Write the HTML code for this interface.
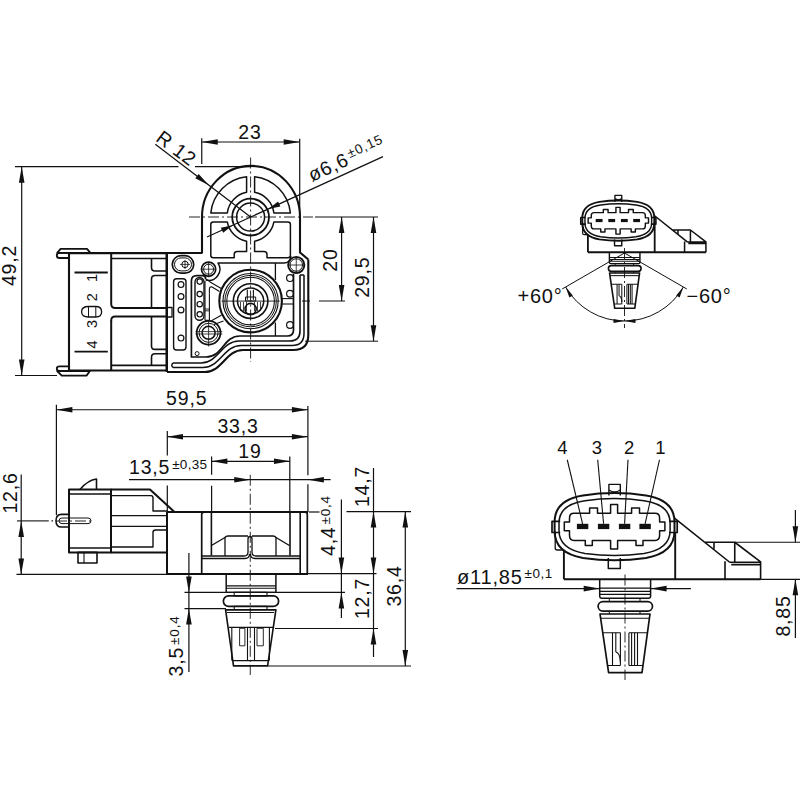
<!DOCTYPE html>
<html><head><meta charset="utf-8"><style>
html,body{margin:0;padding:0;background:#fff;}
svg{display:block;}
text{font-family:"Liberation Sans",sans-serif;fill:#111;stroke:none;letter-spacing:0.8px;}
</style></head><body>
<svg width="800" height="800" viewBox="0 0 800 800" stroke="#111" fill="none" stroke-linecap="butt" stroke-linejoin="round">
<rect x="0" y="0" width="800" height="800" fill="#fff" stroke="none"/>
<line x1="15" y1="166.7" x2="178.5" y2="166.7" stroke-width="1.2"/>
<line x1="195" y1="166.7" x2="251" y2="166.7" stroke-width="1.2"/>
<line x1="15" y1="375.5" x2="57" y2="375.5" stroke-width="1.2"/>
<line x1="21.7" y1="166.7" x2="21.7" y2="375.5" stroke-width="1.2"/>
<path d="M21.7,166.7 L24.5,182.7 L18.9,182.7 Z" fill="#111" stroke="none"/>
<path d="M21.7,375.5 L18.9,359.5 L24.5,359.5 Z" fill="#111" stroke="none"/>
<text x="0" y="0" transform="translate(16.4,265.5) rotate(-90)" font-size="19.5" text-anchor="middle">49,2</text>
<line x1="201.75" y1="138.3" x2="201.75" y2="164" stroke-width="1.2"/>
<line x1="299.7" y1="138.7" x2="299.7" y2="217" stroke-width="1.2"/>
<line x1="201.75" y1="142" x2="299.7" y2="142" stroke-width="1.2"/>
<path d="M201.75,142 L217.75,139.2 L217.75,144.8 Z" fill="#111" stroke="none"/>
<path d="M299.7,142 L283.7,144.8 L283.7,139.2 Z" fill="#111" stroke="none"/>
<text x="0" y="0" transform="translate(250,139) rotate(0)" font-size="19.5" text-anchor="middle">23</text>
<line x1="155.3" y1="144.3" x2="250.6" y2="217.1" stroke-width="1.2"/>
<path d="M208.9,185.2 L195.26,178.35 L198.65,173.89 Z" fill="#111" stroke="none"/>
<text x="0" y="0" transform="translate(172.4,153.6) rotate(37)" font-size="19.5" text-anchor="middle">R 12</text>
<line x1="383" y1="156.6" x2="207" y2="237" stroke-width="1.2"/>
<path d="M268.32,208.99 L278.06,201.45 L280.39,206.55 Z" fill="#111" stroke="none"/>
<path d="M232.88,225.21 L223.14,232.75 L220.81,227.65 Z" fill="#111" stroke="none"/>
<text transform="translate(312,182) rotate(-24.6)" font-size="19.5">ø6,6<tspan font-size="13.5" dx="2" dy="-6">±0,15</tspan></text>
<path d="M202,253.5 V217.1 A48.7,50.9 0 0 1 300,217.1 V252.5 L308.3,259.5" stroke-width="2.1" fill="none"/>
<circle cx="250.6" cy="217.1" r="18.4" stroke-width="1.8" fill="none"/>
<circle cx="250.6" cy="217.1" r="14" stroke-width="1.5" fill="none"/>
<path d="M210.8,213 A40.5,40.5 0 0 1 246.6,176.8 V192.3 A24,24 0 0 0 227.3,213 Z" stroke-width="1.5" fill="none"/>
<path d="M290.4,213 A40.5,40.5 0 0 0 254.6,176.8 V192.3 A24,24 0 0 1 273.9,213 Z" stroke-width="1.5" fill="none"/>
<path d="M213.3,221.9 H227.3 A24,24 0 0 0 246.6,241.2 V251.5 H237.2 Q234.2,251.5 234.2,254.5 V257.7 H213.3 Q210.8,257.7 210.8,255.2 V224.4 Q210.8,221.9 213.3,221.9 Z" stroke-width="1.5" fill="none"/>
<path d="M287.9,221.9 H273.9 A24,24 0 0 1 254.6,241.2 V251.5 H264 Q267,251.5 267,254.5 V257.7 H287.9 Q290.4,257.7 290.4,255.2 V224.4 Q290.4,221.9 287.9,221.9 Z" stroke-width="1.5" fill="none"/>
<line x1="189" y1="217" x2="313" y2="217" stroke-width="0.9" stroke-dasharray="11 3 2 3"/>
<line x1="250.6" y1="157.5" x2="250.6" y2="362" stroke-width="0.9" stroke-dasharray="11 3 2 3"/>
<path d="M167,253 H202" stroke-width="2.0" fill="none"/>
<line x1="167" y1="253" x2="167" y2="372" stroke-width="2.0"/>
<path d="M308.3,259.5 V335 Q308.3,350 293.3,350 H243 C226,350 222,372 205,372 H167" stroke-width="2.1" fill="none"/>
<path d="M304,275 V333.5 Q304,345.5 292,345.5 H241 C224,345.5 220,367.5 203,367.5 H173" stroke-width="1.5" fill="none"/>
<path d="M300,275 V331 Q300,341 290,341 H239 C222,341 218,363 201,363 H173" stroke-width="1.6" fill="none"/>
<path d="M304,275 H300 M173,367.5 Q170.5,365.25 173,363" stroke-width="1.4" fill="none"/>
<path d="M293.5,274 V330 Q293.5,336 287.5,336 H240 C223,336 223,357 206,357 H191.4 V281 Q191.4,275.7 196.7,275.7 H203 Q205.7,275.7 205.7,279.3" stroke-width="1.7" fill="none"/>
<path d="M205.7,280.1 A11.3,11.3 0 0 0 218,263 H284 Q290,263 291,256" stroke-width="1.4" fill="none"/>
<line x1="275.4" y1="263" x2="275.4" y2="280" stroke-width="1.3"/>
<line x1="275.4" y1="322.5" x2="275.4" y2="336" stroke-width="1.3"/>
<path d="M181,255.7 H185 A8.7,8.7 0 0 1 185,273.1 H181 A8.7,8.7 0 0 1 181,255.7 Z" stroke-width="1.7" fill="none"/>
<path d="M181,257.9 H185 A6.5,6.5 0 0 1 185,270.9 H181 A6.5,6.5 0 0 1 181,257.9 Z" stroke-width="1.0" fill="none"/>
<circle cx="185" cy="264.4" r="3.2" stroke-width="1.0" fill="none"/>
<line x1="180" y1="264.4" x2="190" y2="264.4" stroke-width="0.8"/>
<line x1="185" y1="260" x2="185" y2="269" stroke-width="0.8"/>
<circle cx="208.6" cy="269.2" r="7.1" stroke-width="1.7" fill="none"/>
<circle cx="208.6" cy="269.2" r="5" stroke-width="1.0" fill="none"/>
<line x1="201" y1="269.2" x2="216" y2="269.2" stroke-width="0.8"/>
<line x1="208.6" y1="262" x2="208.6" y2="276.5" stroke-width="0.8"/>
<circle cx="296.25" cy="265" r="8.1" stroke-width="1.9" fill="none"/>
<circle cx="296.25" cy="265" r="6.25" stroke-width="1.0" fill="none"/>
<line x1="288" y1="265" x2="304.5" y2="265" stroke-width="0.8"/>
<line x1="296.25" y1="257" x2="296.25" y2="273" stroke-width="0.8"/>
<circle cx="208.6" cy="332.8" r="11.9" stroke-width="1.8" fill="none"/>
<circle cx="208.6" cy="332.8" r="9.5" stroke-width="1.0" fill="none"/>
<circle cx="208.6" cy="332.8" r="6.5" stroke-width="1.5" fill="none"/>
<line x1="195.6" y1="331.6" x2="222.3" y2="331.6" stroke-width="0.8"/>
<line x1="195.6" y1="334" x2="222.3" y2="334" stroke-width="0.8"/>
<line x1="208.6" y1="320.9" x2="208.6" y2="346.5" stroke-width="0.8"/>
<circle cx="250.6" cy="301.1" r="31.3" stroke-width="2.1" fill="none"/>
<circle cx="250.6" cy="301.1" r="27.6" stroke-width="1.1" fill="none"/>
<circle cx="250.6" cy="301.1" r="25.7" stroke-width="1.0" fill="none"/>
<circle cx="250.6" cy="301.1" r="23.8" stroke-width="1.1" fill="none"/>
<circle cx="250.6" cy="301.1" r="17.3" stroke-width="1.6" fill="none"/>
<circle cx="250.6" cy="301.1" r="13.1" stroke-width="1.5" fill="none"/>
<line x1="221.6" y1="301.1" x2="279.7" y2="301.1" stroke-width="0.9"/>
<circle cx="250.6" cy="309" r="5.6" stroke-width="1.6" fill="none"/>
<line x1="240.5" y1="302" x2="240.5" y2="311" stroke-width="0.8"/>
<line x1="243.5" y1="302" x2="243.5" y2="311" stroke-width="0.8"/>
<line x1="246.5" y1="302" x2="246.5" y2="311" stroke-width="0.8"/>
<line x1="254.5" y1="302" x2="254.5" y2="311" stroke-width="0.8"/>
<line x1="257.5" y1="302" x2="257.5" y2="311" stroke-width="0.8"/>
<line x1="260.5" y1="302" x2="260.5" y2="311" stroke-width="0.8"/>
<line x1="247.3" y1="289.8" x2="247.3" y2="299.7" stroke-width="1.1"/>
<line x1="253.4" y1="289.8" x2="253.4" y2="299.7" stroke-width="1.1"/>
<rect x="245.5" y="297" width="10.2" height="4" rx="0" stroke-width="1.0" fill="none"/>
<rect x="173.6" y="278.7" width="12.4" height="71.3" rx="3" stroke-width="1.4" fill="none"/>
<circle cx="181" cy="284.6" r="2.9" stroke-width="1.2" fill="none"/>
<circle cx="181" cy="296.5" r="2.9" stroke-width="1.2" fill="none"/>
<circle cx="181" cy="310" r="2.9" stroke-width="1.2" fill="none"/>
<circle cx="181" cy="338.1" r="2.9" stroke-width="1.2" fill="none"/>
<rect x="195" y="277.5" width="9" height="42.8" rx="4.5" stroke-width="1.4" fill="none"/>
<circle cx="199.7" cy="281.6" r="2.7" stroke-width="1.2" fill="none"/>
<circle cx="199.7" cy="294.1" r="2.7" stroke-width="1.2" fill="none"/>
<circle cx="199.7" cy="304.2" r="2.7" stroke-width="1.2" fill="none"/>
<circle cx="199.7" cy="314.3" r="2.7" stroke-width="1.2" fill="none"/>
<circle cx="290" cy="278.1" r="3.4" stroke-width="1.2" fill="none"/>
<circle cx="290" cy="293.75" r="3.4" stroke-width="1.2" fill="none"/>
<circle cx="290" cy="325" r="3.4" stroke-width="1.2" fill="none"/>
<circle cx="197.1" cy="353.6" r="2" stroke-width="1.0" fill="none"/>
<path d="M205.7,279.3 Q208,279.5 210,282 L221.3,288.5" stroke-width="1.1" fill="none"/>
<path d="M209.4,293.75 V289 Q209.4,286.5 212,287 L219.5,291.5" stroke-width="1.1" fill="none"/>
<line x1="205" y1="281" x2="205" y2="320.3" stroke-width="1.1"/>
<line x1="209.4" y1="293.75" x2="209.4" y2="320.3" stroke-width="1.1"/>
<line x1="205" y1="320.3" x2="209.4" y2="320.3" stroke-width="1.1"/>
<line x1="205" y1="309" x2="209.4" y2="309" stroke-width="0.9"/>
<line x1="205" y1="310.8" x2="209.4" y2="310.8" stroke-width="0.9"/>
<line x1="211" y1="320.9" x2="221.7" y2="315" stroke-width="1.1"/>
<line x1="214" y1="324.5" x2="223.5" y2="320.9" stroke-width="1.1"/>
<line x1="281.9" y1="298.6" x2="293.5" y2="298.6" stroke-width="1.1"/>
<line x1="281.9" y1="304" x2="293.5" y2="304" stroke-width="1.1"/>
<line x1="315" y1="217" x2="378" y2="217" stroke-width="1.1"/>
<line x1="302" y1="301" x2="310" y2="301" stroke-width="1.0"/>
<line x1="319" y1="301" x2="345" y2="301" stroke-width="1.0"/>
<line x1="305" y1="341.2" x2="378" y2="341.2" stroke-width="1.0"/>
<line x1="341.6" y1="217" x2="341.6" y2="301" stroke-width="1.2"/>
<path d="M341.6,217 L344.4,233 L338.8,233 Z" fill="#111" stroke="none"/>
<path d="M341.6,301 L338.8,285 L344.4,285 Z" fill="#111" stroke="none"/>
<text x="0" y="0" transform="translate(336.5,260) rotate(-90)" font-size="19.5" text-anchor="middle">20</text>
<line x1="373.5" y1="217" x2="373.5" y2="341" stroke-width="1.2"/>
<path d="M373.5,217 L376.3,233 L370.7,233 Z" fill="#111" stroke="none"/>
<path d="M373.5,341.2 L370.7,325.2 L376.3,325.2 Z" fill="#111" stroke="none"/>
<text x="0" y="0" transform="translate(369,277.2) rotate(-90)" font-size="19.5" text-anchor="middle">29,5</text>
<path d="M57.2,252.8 L60.6,248.8 H87 L90.4,252.8 Z" stroke-width="1.8" fill="none"/>
<path d="M69,252.8 H59.6 Q56.8,252.8 56.8,255.4 Q56.8,258 59.6,258 H69" stroke-width="1.8" fill="none"/>
<path d="M57.2,371 L61.7,375.6 H86.5 L89.9,371 Z" stroke-width="1.8" fill="none"/>
<path d="M69,371 H59.6 Q56.8,371 56.8,368.6 Q56.8,366.3 59.6,366.3 H69" stroke-width="1.8" fill="none"/>
<rect x="69" y="253.1" width="97.8" height="117.4" rx="0" stroke-width="2.1" fill="none"/>
<line x1="166.8" y1="253.1" x2="166.8" y2="372" stroke-width="2.3"/>
<line x1="111.2" y1="253.1" x2="111.2" y2="304" stroke-width="2.0"/>
<line x1="111.2" y1="320" x2="111.2" y2="370.5" stroke-width="2.0"/>
<path d="M111.2,304 Q111.2,308 115.2,308 H166.8" stroke-width="1.9" fill="none"/>
<path d="M111.2,320.5 Q111.2,316.5 115.2,316.5 H166.8" stroke-width="1.9" fill="none"/>
<line x1="111.2" y1="258.5" x2="166.8" y2="258.5" stroke-width="1.7"/>
<line x1="111.2" y1="365.3" x2="166.8" y2="365.3" stroke-width="1.7"/>
<path d="M151.5,258.5 V267.5 Q151.5,271 155,271 H166.8" stroke-width="1.6" fill="none"/>
<path d="M166.8,275.5 H155 Q151.5,275.5 151.5,279 V308" stroke-width="1.6" fill="none"/>
<path d="M151.5,316.5 V346 Q151.5,349.4 155,349.4 H166.8" stroke-width="1.6" fill="none"/>
<path d="M166.8,353.8 H155 Q151.5,353.8 151.5,357.3 V365.3" stroke-width="1.6" fill="none"/>
<rect x="166.8" y="307.5" width="5.2" height="9.5" rx="0" stroke-width="1.3" fill="none"/>
<line x1="74.5" y1="272.5" x2="107.8" y2="272.5" stroke-width="1.8"/>
<line x1="74.5" y1="351.7" x2="107.8" y2="351.7" stroke-width="1.8"/>
<text x="0" y="0" transform="translate(96.6,277.6) rotate(-90)" font-size="14.5" text-anchor="middle">1</text>
<text x="0" y="0" transform="translate(96.6,296.9) rotate(-90)" font-size="14.5" text-anchor="middle">2</text>
<text x="0" y="0" transform="translate(96.6,323.6) rotate(-90)" font-size="14.5" text-anchor="middle">3</text>
<text x="0" y="0" transform="translate(96.6,344.1) rotate(-90)" font-size="14.5" text-anchor="middle">4</text>
<path d="M88.5,306.5 H95.8 Q101.6,306.5 101.6,311.7 Q101.6,317 95.8,317 H88.5 Q81.6,317 81.6,311.7 Q81.6,306.5 88.5,306.5 Z" stroke-width="1.3" fill="none"/>
<line x1="88.5" y1="306.5" x2="88.5" y2="317" stroke-width="1.0"/>
<line x1="95.8" y1="306.5" x2="95.8" y2="317" stroke-width="1.0"/>
<line x1="56.4" y1="404.8" x2="56.4" y2="515" stroke-width="1.2"/>
<line x1="56.4" y1="409.75" x2="307.9" y2="409.75" stroke-width="1.2"/>
<path d="M56.4,409.75 L72.4,406.95 L72.4,412.55 Z" fill="#111" stroke="none"/>
<path d="M307.9,409.75 L291.9,412.55 L291.9,406.95 Z" fill="#111" stroke="none"/>
<text x="0" y="0" transform="translate(186.7,405.3) rotate(0)" font-size="19.5" text-anchor="middle">59,5</text>
<line x1="307.9" y1="406" x2="307.9" y2="475.25" stroke-width="1.2"/>
<line x1="307.9" y1="484.25" x2="307.9" y2="512" stroke-width="1.2"/>
<line x1="167.3" y1="431" x2="167.3" y2="455.6" stroke-width="1.2"/>
<line x1="167.3" y1="485.6" x2="167.3" y2="512" stroke-width="1.2"/>
<line x1="167" y1="436.7" x2="307.9" y2="436.7" stroke-width="1.2"/>
<path d="M167,436.7 L183,433.9 L183,439.5 Z" fill="#111" stroke="none"/>
<path d="M307.9,436.7 L291.9,439.5 L291.9,433.9 Z" fill="#111" stroke="none"/>
<text x="0" y="0" transform="translate(238,432.6) rotate(0)" font-size="19.5" text-anchor="middle">33,3</text>
<line x1="211.6" y1="456.5" x2="211.6" y2="474.8" stroke-width="1.2"/>
<line x1="211.6" y1="485.75" x2="211.6" y2="512" stroke-width="1.2"/>
<line x1="289.8" y1="456.5" x2="289.8" y2="512" stroke-width="1.2"/>
<line x1="211.4" y1="461.3" x2="290" y2="461.3" stroke-width="1.2"/>
<path d="M211.4,461.3 L227.4,458.5 L227.4,464.1 Z" fill="#111" stroke="none"/>
<path d="M290,461.3 L274,464.1 L274,458.5 Z" fill="#111" stroke="none"/>
<text x="0" y="0" transform="translate(250,458) rotate(0)" font-size="19.5" text-anchor="middle">19</text>
<text x="129" y="473.5" font-size="19.5">13,5<tspan font-size="13.5" dx="2" dy="-5" letter-spacing="0.3">±0,35</tspan></text>
<line x1="129" y1="479.7" x2="330.6" y2="479.7" stroke-width="1.2"/>
<path d="M250.25,479.7 L234.25,482.5 L234.25,476.9 Z" fill="#111" stroke="none"/>
<path d="M307.9,479.7 L323.9,476.9 L323.9,482.5 Z" fill="#111" stroke="none"/>
<line x1="250.25" y1="474.8" x2="250.25" y2="675" stroke-width="0.9" stroke-dasharray="11 3 2 3"/>
<rect x="69" y="489.4" width="42" height="63" rx="0" stroke-width="2.0" fill="none"/>
<line x1="69" y1="494" x2="111" y2="494" stroke-width="1.3"/>
<line x1="69" y1="548" x2="111" y2="548" stroke-width="1.3"/>
<path d="M80,489.4 Q88,480 96.5,479 V489.4" stroke-width="1.6" fill="none"/>
<path d="M69,514.4 H61.5 Q56,514.4 56,520.7 Q56,527 61.5,527 H69" stroke-width="1.6" fill="none"/>
<path d="M62,518 H88 Q91,518 91,520.8 Q91,523.6 88,523.6 H62 Q59,523.6 59,520.8 Q59,518 62,518 Z" stroke-width="1.0" fill="none"/>
<line x1="56" y1="521" x2="92" y2="521" stroke-width="0.9" stroke-dasharray="11 3 2 3"/>
<path d="M111,489.4 H150 L174.5,512" stroke-width="2.0" fill="none"/>
<line x1="111" y1="552.4" x2="167" y2="552.4" stroke-width="2.0"/>
<path d="M111,495.6 H151 Q153,495.6 153,498 V511 H167" stroke-width="1.4" fill="none"/>
<path d="M167,530 H155.5 Q153,530 153,532.5 V547 H111" stroke-width="1.4" fill="none"/>
<line x1="111" y1="515.6" x2="167" y2="515.6" stroke-width="1.4"/>
<line x1="111" y1="526.4" x2="167" y2="526.4" stroke-width="1.4"/>
<rect x="78" y="552.4" width="19" height="10.6" rx="0" stroke-width="1.6" fill="none"/>
<line x1="84" y1="552.4" x2="84" y2="563" stroke-width="1.1"/>
<line x1="17" y1="520.9" x2="48.75" y2="520.9" stroke-width="1.1"/>
<line x1="51.5" y1="520.9" x2="53" y2="520.9" stroke-width="1.1"/>
<line x1="16.5" y1="574.4" x2="167" y2="574.4" stroke-width="1.2"/>
<line x1="21.2" y1="474.6" x2="21.2" y2="574.4" stroke-width="1.2"/>
<path d="M21.2,520.9 L24,536.9 L18.4,536.9 Z" fill="#111" stroke="none"/>
<path d="M21.2,574.4 L18.4,558.4 L24,558.4 Z" fill="#111" stroke="none"/>
<text x="0" y="0" transform="translate(16.8,493) rotate(-90)" font-size="19.5" text-anchor="middle">12,6</text>
<line x1="167" y1="512" x2="308" y2="512" stroke-width="2.0"/>
<line x1="167" y1="512" x2="167" y2="574" stroke-width="2.0"/>
<line x1="167" y1="574" x2="308" y2="574" stroke-width="2.0"/>
<path d="M201.7,574 V514.5 Q201.7,512.5 203.7,512.5" stroke-width="1.7" fill="none"/>
<path d="M307.3,574 V514.5 Q307.3,512.5 305.3,512.5" stroke-width="1.7" fill="none"/>
<line x1="300.2" y1="512" x2="300.2" y2="574" stroke-width="1.6"/>
<line x1="211.4" y1="512" x2="211.4" y2="555.5" stroke-width="1.6"/>
<line x1="290" y1="512" x2="290" y2="555.5" stroke-width="1.6"/>
<path d="M201.7,556 H244 Q248,556 248,552 V539 Q248,536.5 250,536.5 Q252,536.5 252,539 V552 Q252,556 256,556 H300.2" stroke-width="1.3" fill="none"/>
<path d="M201.7,558.5 H245 Q249.5,558.5 249.5,554 M250.5,554 Q250.5,558.5 255,558.5 H300.2" stroke-width="1.3" fill="none"/>
<path d="M211.4,545.5 L225,537.5 Q226,536 228,536 H248 M252,536 H273 Q275,536 276,537.5 L289.4,545.5" stroke-width="1.4" fill="none"/>
<line x1="225" y1="537" x2="225" y2="556" stroke-width="1.3"/>
<line x1="276" y1="537" x2="276" y2="556" stroke-width="1.3"/>
<path d="M226.2,574 V592.4 M275.9,574 V592.4" stroke-width="1.5" fill="none"/>
<line x1="226.2" y1="585.9" x2="275.9" y2="585.9" stroke-width="1.1"/>
<line x1="226.2" y1="588.3" x2="275.9" y2="588.3" stroke-width="1.1"/>
<line x1="226.2" y1="592.4" x2="275.9" y2="592.4" stroke-width="1.3"/>
<rect x="234.2" y="592.2" width="32.8" height="3.8" rx="0" stroke-width="1.1" fill="none"/>
<rect x="223.4" y="595.9" width="55.2" height="10.5" rx="5.2" stroke-width="1.7" fill="none"/>
<rect x="234.2" y="606.4" width="32.8" height="3.1" rx="0" stroke-width="1.1" fill="none"/>
<path d="M225.6,609.9 H275.9 L267.6,665.9 H233.5 Z" stroke-width="1.6" fill="none"/>
<line x1="227" y1="612.5" x2="274" y2="612.5" stroke-width="1.1"/>
<line x1="229" y1="627.4" x2="273" y2="627.4" stroke-width="1.1"/>
<line x1="233" y1="660.6" x2="268" y2="660.6" stroke-width="1.1"/>
<path d="M231.8,627.4 V660.6 M247.5,627.4 V660.6 M254.5,627.4 V660.6 M269.4,627.4 V660.6" stroke-width="1.1" fill="none"/>
<rect x="239.6" y="628.3" width="5.3" height="17.5" rx="0" stroke-width="0.9" fill="none"/>
<rect x="257" y="628.3" width="6.3" height="17.5" rx="0" stroke-width="0.9" fill="none"/>
<line x1="308.8" y1="512" x2="319.5" y2="512" stroke-width="1.2"/>
<line x1="346.5" y1="511.6" x2="411" y2="511.6" stroke-width="1.2"/>
<line x1="308" y1="573.6" x2="376.5" y2="573.6" stroke-width="1.2"/>
<line x1="184.5" y1="592.4" x2="345" y2="592.4" stroke-width="1.2"/>
<line x1="184.5" y1="608.6" x2="226" y2="608.6" stroke-width="1.2"/>
<line x1="275" y1="628.5" x2="378" y2="628.5" stroke-width="1.2"/>
<line x1="267.6" y1="666" x2="411" y2="666" stroke-width="1.2"/>
<line x1="341.4" y1="499.5" x2="341.4" y2="618" stroke-width="1.2"/>
<path d="M341.4,573.6 L338.6,557.6 L344.2,557.6 Z" fill="#111" stroke="none"/>
<path d="M341.4,592.4 L344.2,608.4 L338.6,608.4 Z" fill="#111" stroke="none"/>
<text transform="translate(335.3,556) rotate(-90)" font-size="19.5">4,4<tspan font-size="13.5" dx="2" dy="-5">±0,4</tspan></text>
<line x1="373.5" y1="468" x2="373.5" y2="657" stroke-width="1.2"/>
<path d="M373.5,511.6 L376.3,527.6 L370.7,527.6 Z" fill="#111" stroke="none"/>
<path d="M373.5,573.6 L370.7,557.6 L376.3,557.6 Z" fill="#111" stroke="none"/>
<path d="M373.5,628.5 L376.3,644.5 L370.7,644.5 Z" fill="#111" stroke="none"/>
<text x="0" y="0" transform="translate(369,486.5) rotate(-90)" font-size="19.5" text-anchor="middle">14,7</text>
<text x="0" y="0" transform="translate(369,598.5) rotate(-90)" font-size="19.5" text-anchor="middle">12,7</text>
<line x1="405.3" y1="511.6" x2="405.3" y2="666" stroke-width="1.2"/>
<path d="M405.3,511.6 L408.1,527.6 L402.5,527.6 Z" fill="#111" stroke="none"/>
<path d="M405.3,666 L402.5,650 L408.1,650 Z" fill="#111" stroke="none"/>
<text x="0" y="0" transform="translate(400.5,586) rotate(-90)" font-size="19.5" text-anchor="middle">36,4</text>
<line x1="188.9" y1="553" x2="188.9" y2="672" stroke-width="1.2"/>
<path d="M188.9,592.4 L186.1,576.4 L191.7,576.4 Z" fill="#111" stroke="none"/>
<path d="M188.9,608.6 L191.7,624.6 L186.1,624.6 Z" fill="#111" stroke="none"/>
<text transform="translate(182.8,676.4) rotate(-90)" font-size="19.5">3,5<tspan font-size="13.5" dx="2" dy="-4">±0,4</tspan></text>
<g><path d="M583,495.4 Q614.5,490.5 646,495.4 Q674.5,500 674.5,522 V531 Q674.5,553 646,557.9 Q614.5,562.5 583,557.9 Q554.6,553 554.6,531 V522 Q554.6,500 583,495.4 Z" stroke-width="2" fill="none"/>
<path d="M585,500.7 Q614.5,496.5 644,500.7 Q670.1,504.5 670.1,523 V530.5 Q670.1,549 644,553.5 Q614.5,557.5 585,553.5 Q559,549 559,530.5 V523 Q559,504.5 585,500.7 Z" stroke-width="1.5" fill="none"/>
<path d="M574,513.3 H589.6 V508 H597.5 V513.3 H610.6 V504.5 H617.6 V513.3 H631.6 V508 H639.5 V513.3 H655 Q659.6,513.3 659.6,518 V522 H664.9 V530.8 H659.6 V535.5 Q659.6,540.4 655,540.4 H643 V545.6 H636 V540.4 H617.6 V549.1 H610.6 V540.4 H592.3 V545.6 H585.3 V540.4 H574 Q569.5,540.4 569.5,535.5 V530.8 H564.3 V522 H569.5 V518 Q569.5,513.3 574,513.3 Z" stroke-width="1.5" fill="none"/>
<rect x="576.9" y="523.8" width="11.4" height="5.3" fill="#111" stroke="none"/>
<rect x="597.9" y="523.8" width="11.4" height="5.3" fill="#111" stroke="none"/>
<rect x="618.9" y="523.8" width="11.4" height="5.3" fill="#111" stroke="none"/>
<rect x="639.4" y="523.8" width="11.4" height="5.3" fill="#111" stroke="none"/>
<path d="M608.9,495.4 V484.4 H620.3 V495.4 M609,490 Q614.5,494 620.2,490" stroke-width="1.4" fill="none"/>
<path d="M608.3,557.9 V568.4 H620.3 V557.9" stroke-width="1.5" fill="none"/>
<path d="M560.2,521.3 H552 V532.5 H560.2 M669,521.3 H677.2 V532.5 H669" stroke-width="1.7" fill="none"/>
<path d="M555.2,531 V548 Q555.2,550 557.5,550 H563.9" stroke-width="1.3" fill="none"/>
<path d="M563.9,550 V579.3 M675.2,533 V579.3 M563.9,579.3 H760.6" stroke-width="1.9" fill="none"/>
<path d="M674.5,518.1 L730,562.5 M705,542.25 H734.75 L760.6,561.9 V579.4 M725,561.25 V579.4 M730,562.25 H760.6 M731.25,564.6 H760.6 M734.75,542.25 V562 M714,542.25 V548.75" stroke-width="1.6" fill="none"/>
<path d="M599.7,579.7 V596 Q599.7,598.3 602,598.3 H648.3 Q650.6,598.3 650.6,596 V579.7" stroke-width="1.5" fill="none"/>
<path d="M599.7,588.1 H650.6 M599.7,591.4 H650.6 M599.7,594.4 H650.6" stroke-width="1.1" fill="none"/>
<path d="M609.3,598.3 V601.6 M640,598.3 V601.6" stroke-width="1" fill="none"/>
<rect x="598.1" y="601.6" width="54.4" height="9.5" rx="4.75" stroke-width="1.7" fill="none"/>
<path d="M609.3,611.1 V614 M640,611.1 V614" stroke-width="1" fill="none"/>
<path d="M600,614 H650 L642,672.7 H608.6 Z" stroke-width="1.7" fill="none"/>
<path d="M601,618.3 H649" stroke-width="1.1" fill="none"/>
<path d="M602.6,632.7 H620.4 M629,632.7 H647.5 M607.6,665.5 H620.4 M629,665.5 H643" stroke-width="1.1" fill="none"/>
<path d="M612.5,632.7 V665.5 M615.8,632.7 V652 M620.4,632.7 V665.5 M628.9,632.7 V665.5 M631.6,632.7 V665.5 M634.6,632.7 V665.5 M637.5,632.7 V665.5" stroke-width="1.1" fill="none"/>
<path d="M615.8,652 Q620,653 620.4,662" stroke-width="1.1" fill="none"/></g>
<line x1="625" y1="574.5" x2="625" y2="680" stroke-width="0.9" stroke-dasharray="11 3 2 3"/>
<text x="0" y="0" transform="translate(562.9,453.8) rotate(0)" font-size="18.5" text-anchor="middle">4</text>
<line x1="567.25" y1="459.75" x2="582.6" y2="523.8" stroke-width="1.1"/>
<text x="0" y="0" transform="translate(597.4,453.8) rotate(0)" font-size="18.5" text-anchor="middle">3</text>
<line x1="597.7" y1="459.75" x2="603.6" y2="523.8" stroke-width="1.1"/>
<text x="0" y="0" transform="translate(629.5,453.8) rotate(0)" font-size="18.5" text-anchor="middle">2</text>
<line x1="628" y1="459.75" x2="624.6" y2="523.8" stroke-width="1.1"/>
<text x="0" y="0" transform="translate(660.8,453.8) rotate(0)" font-size="18.5" text-anchor="middle">1</text>
<line x1="659.5" y1="459.75" x2="645.1" y2="523.8" stroke-width="1.1"/>
<line x1="734.75" y1="542.25" x2="800" y2="542.25" stroke-width="1.2"/>
<line x1="760.6" y1="579.3" x2="800" y2="579.3" stroke-width="1.2"/>
<line x1="795.4" y1="510" x2="795.4" y2="542.25" stroke-width="1.2"/>
<path d="M795.4,542.25 L792.6,526.25 L798.2,526.25 Z" fill="#111" stroke="none"/>
<line x1="795.4" y1="579.3" x2="795.4" y2="638" stroke-width="1.2"/>
<path d="M795.4,579.3 L798.2,595.3 L792.6,595.3 Z" fill="#111" stroke="none"/>
<text x="0" y="0" transform="translate(790,616) rotate(-90)" font-size="19.5" text-anchor="middle">8,85</text>
<line x1="456.5" y1="588.6" x2="599.7" y2="588.6" stroke-width="1.2"/>
<path d="M599.7,588.6 L583.7,591.4 L583.7,585.8 Z" fill="#111" stroke="none"/>
<line x1="650.6" y1="588.6" x2="690.9" y2="588.6" stroke-width="1.2"/>
<path d="M650.6,588.6 L666.6,585.8 L666.6,591.4 Z" fill="#111" stroke="none"/>
<text x="457" y="584" font-size="20">ø11,85<tspan font-size="13.5" dx="1.8" dy="-6" letter-spacing="0.6">±0,1</tspan></text>
<g transform="translate(618.3,220.65) scale(0.6) translate(-614.55,-526.65)"><path d="M583,495.4 Q614.5,490.5 646,495.4 Q674.5,500 674.5,522 V531 Q674.5,553 646,557.9 Q614.5,562.5 583,557.9 Q554.6,553 554.6,531 V522 Q554.6,500 583,495.4 Z" stroke-width="3.17" fill="none"/>
<path d="M585,500.7 Q614.5,496.5 644,500.7 Q670.1,504.5 670.1,523 V530.5 Q670.1,549 644,553.5 Q614.5,557.5 585,553.5 Q559,549 559,530.5 V523 Q559,504.5 585,500.7 Z" stroke-width="2.38" fill="none"/>
<path d="M574,513.3 H589.6 V508 H597.5 V513.3 H610.6 V504.5 H617.6 V513.3 H631.6 V508 H639.5 V513.3 H655 Q659.6,513.3 659.6,518 V522 H664.9 V530.8 H659.6 V535.5 Q659.6,540.4 655,540.4 H643 V545.6 H636 V540.4 H617.6 V549.1 H610.6 V540.4 H592.3 V545.6 H585.3 V540.4 H574 Q569.5,540.4 569.5,535.5 V530.8 H564.3 V522 H569.5 V518 Q569.5,513.3 574,513.3 Z" stroke-width="2.38" fill="none"/>
<rect x="576.9" y="523.8" width="11.4" height="5.3" fill="#111" stroke="none"/>
<rect x="597.9" y="523.8" width="11.4" height="5.3" fill="#111" stroke="none"/>
<rect x="618.9" y="523.8" width="11.4" height="5.3" fill="#111" stroke="none"/>
<rect x="639.4" y="523.8" width="11.4" height="5.3" fill="#111" stroke="none"/>
<path d="M608.9,495.4 V484.4 H620.3 V495.4 M609,490 Q614.5,494 620.2,490" stroke-width="2.22" fill="none"/>
<path d="M608.3,557.9 V568.4 H620.3 V557.9" stroke-width="2.38" fill="none"/>
<path d="M560.2,521.3 H552 V532.5 H560.2 M669,521.3 H677.2 V532.5 H669" stroke-width="2.69" fill="none"/>
<path d="M555.2,531 V548 Q555.2,550 557.5,550 H563.9" stroke-width="2.06" fill="none"/>
<path d="M563.9,550 V579.3 M675.2,533 V579.3 M563.9,579.3 H760.6" stroke-width="3.01" fill="none"/>
<path d="M674.5,518.1 L730,562.5 M705,542.25 H734.75 L760.6,561.9 V579.4 M725,561.25 V579.4 M730,562.25 H760.6 M731.25,564.6 H760.6 M734.75,542.25 V562 M714,542.25 V548.75" stroke-width="2.53" fill="none"/>
<path d="M599.7,579.7 V596 Q599.7,598.3 602,598.3 H648.3 Q650.6,598.3 650.6,596 V579.7" stroke-width="2.38" fill="none"/>
<path d="M599.7,588.1 H650.6 M599.7,591.4 H650.6 M599.7,594.4 H650.6" stroke-width="1.74" fill="none"/>
<path d="M609.3,598.3 V601.6 M640,598.3 V601.6" stroke-width="1.58" fill="none"/>
<rect x="598.1" y="601.6" width="54.4" height="9.5" rx="4.75" stroke-width="2.69" fill="none"/>
<path d="M609.3,611.1 V614 M640,611.1 V614" stroke-width="1.58" fill="none"/>
<path d="M600,614 H650 L642,672.7 H608.6 Z" stroke-width="2.69" fill="none"/>
<path d="M601,618.3 H649" stroke-width="1.74" fill="none"/>
<path d="M602.6,632.7 H620.4 M629,632.7 H647.5 M607.6,665.5 H620.4 M629,665.5 H643" stroke-width="1.74" fill="none"/>
<path d="M612.5,632.7 V665.5 M615.8,632.7 V652 M620.4,632.7 V665.5 M628.9,632.7 V665.5 M631.6,632.7 V665.5 M634.6,632.7 V665.5 M637.5,632.7 V665.5" stroke-width="1.74" fill="none"/>
<path d="M615.8,652 Q620,653 620.4,662" stroke-width="1.74" fill="none"/></g>
<line x1="624.5" y1="248" x2="624.5" y2="328" stroke-width="0.9" stroke-dasharray="11 3 2 3"/>
<line x1="624.5" y1="253" x2="686.85" y2="289" stroke-width="1.0"/>
<line x1="624.5" y1="253" x2="562.15" y2="289" stroke-width="1.0"/>
<path d="M565.61,287 A68,68 0 0 0 683.39,287" stroke-width="1.0" fill="none"/>
<path d="M565.61,287 L572.84,295.53 L569.38,297.53 Z" fill="#111" stroke="none"/>
<path d="M683.39,287 L679.62,297.53 L676.16,295.53 Z" fill="#111" stroke="none"/>
<path d="M624.5,321 L613.5,323 L613.5,319 Z" fill="#111" stroke="none"/>
<path d="M624.5,321 L635.5,319 L635.5,323 Z" fill="#111" stroke="none"/>
<text x="0" y="0" transform="translate(540,303) rotate(0)" font-size="20" text-anchor="middle">+60°</text>
<text x="0" y="0" transform="translate(709,303) rotate(0)" font-size="20" text-anchor="middle">−60°</text>
</svg></body></html>
